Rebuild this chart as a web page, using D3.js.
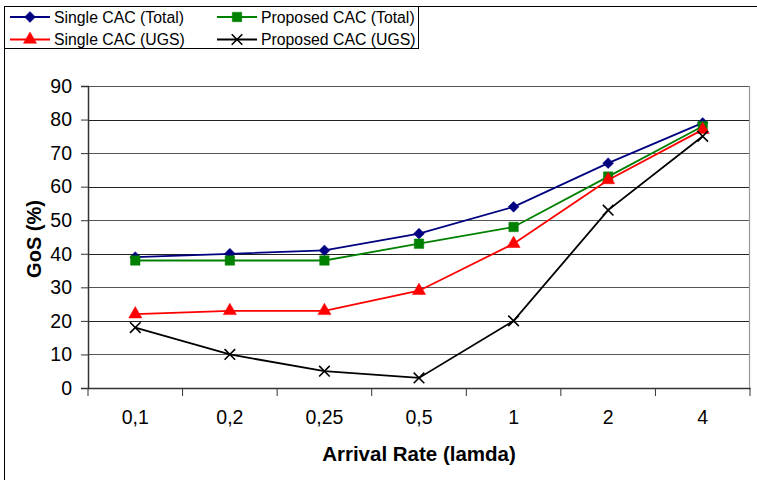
<!DOCTYPE html>
<html>
<head>
<meta charset="utf-8">
<script src="https://cdn.jsdelivr.net/npm/d3@7"></script>
<style>
  body { margin: 0; background: #fff; }
  text { font-family: "Liberation Sans", Arial, sans-serif; }
</style>
</head>
<body>
<svg class="chart"></svg>
<script>
const categories = ['0,1', '0,2', '0,25', '0,5', '1', '2', '4'];
const singleTotal = [39, 40, 41, 46, 54, 67, 79];
const proposedTotal = [38, 38, 38, 43, 48, 63, 78];
const singleUgs = [22, 23, 23, 29, 43, 62, 77];
const proposedUgs = [18, 10, 5, 3, 20, 53, 75];
const yTicks = [0, 10, 20, 30, 40, 50, 60, 70, 80, 90];

const series = [
  {name: 'Single CAC (Total)', values: singleTotal, color: '#000080', symbol: d3.symbolDiamond2, size: 75},
  {name: 'Proposed CAC (Total)', values: proposedTotal, color: '#008000', symbol: d3.symbolSquare, size: 90},
  {name: 'Single CAC (UGS)', values: singleUgs, color: '#ff0000', symbol: d3.symbolTriangle, size: 75},
  {name: 'Proposed CAC (UGS)', values: proposedUgs, color: '#000000', symbol: d3.symbolTimes, size: 75}
];

const width = 757, height = 480;
const svg = d3.select('.chart').attr('width', width).attr('height', height);

const plotLeft = 88, plotRight = 750, plotTop = 86, plotBottom = 388;

const x = d3.scaleBand().domain(categories).range([plotLeft, plotRight]);
const y = d3.scaleLinear().domain([0, 90]).range([plotBottom, plotTop]);

// frame
svg.append('line').attr('x1', 4.5).attr('x2', width).attr('y1', 6.5).attr('y2', 6.5).attr('stroke', '#000');
svg.append('line').attr('x1', 4.5).attr('x2', 4.5).attr('y1', 6.5).attr('y2', height).attr('stroke', '#000');

// gridlines
svg.append('g')
  .selectAll('line')
  .data(yTicks.slice(1))
  .join('line')
  .attr('x1', plotLeft).attr('x2', plotRight)
  .attr('y1', d => Math.round(y(d)) + 0.5).attr('y2', d => Math.round(y(d)) + 0.5)
  .attr('stroke', d => d % 20 === 0 ? '#222' : '#555')
  .attr('stroke-width', 1.2);

// plot area right border
svg.append('line').attr('x1', plotRight - 0.5).attr('x2', plotRight - 0.5).attr('y1', plotTop).attr('y2', plotBottom)
  .attr('stroke', '#999').attr('stroke-width', 1.2);

// y axis
const yAxis = svg.append('g')
  .attr('transform', `translate(${plotLeft},0)`)
  .call(d3.axisLeft(y).tickValues(yTicks).tickSize(7).tickPadding(9));
yAxis.select('.domain').attr('stroke', '#333').attr('stroke-width', 1.5);
yAxis.selectAll('.tick line').attr('stroke', '#333');
yAxis.selectAll('text').attr('font-size', 19.5).attr('fill', '#000')
  .attr('font-family', '"Liberation Sans", Arial, sans-serif');

// x axis
const xAxis = svg.append('g')
  .attr('transform', `translate(0,${plotBottom})`)
  .call(d3.axisBottom(x).tickSize(0).tickPadding(22));
xAxis.select('.domain').attr('stroke', '#333').attr('stroke-width', 1.5);
xAxis.selectAll('text').attr('font-size', 19.5).attr('fill', '#000')
  .attr('font-family', '"Liberation Sans", Arial, sans-serif');
xAxis.selectAll('.bound')
  .data(d3.range(categories.length + 1))
  .join('line')
  .attr('class', 'bound')
  .attr('x1', i => plotLeft + i * x.step()).attr('x2', i => plotLeft + i * x.step())
  .attr('y1', 0).attr('y2', 8)
  .attr('stroke', '#333');

// axis titles
svg.append('text')
  .attr('transform', `translate(41,${(plotTop + plotBottom) / 2 + 2}) rotate(-90)`)
  .attr('text-anchor', 'middle')
  .attr('font-size', 20).attr('font-weight', 'bold')
  .text('GoS (%)');
svg.append('text')
  .attr('x', 419).attr('y', 461)
  .attr('text-anchor', 'middle')
  .attr('font-size', 20.5).attr('font-weight', 'bold')
  .text('Arrival Rate (lamda)');

// lines and markers
const line = d3.line()
  .x((d, i) => x(categories[i]) + x.bandwidth() / 2)
  .y(d => y(d));

series.forEach(s => {
  svg.append('path')
    .datum(s.values)
    .attr('d', line)
    .attr('fill', 'none')
    .attr('stroke', s.color)
    .attr('stroke-width', 1.8);
  svg.append('g')
    .selectAll('path')
    .data(s.values)
    .join('path')
    .attr('transform', (d, i) => `translate(${x(categories[i]) + x.bandwidth() / 2},${y(d)})`)
    .attr('d', d3.symbol(s.symbol, s.size))
    .attr('fill', s.symbol === d3.symbolTimes ? 'none' : s.color)
    .attr('stroke', s.color)
    .attr('stroke-width', s.symbol === d3.symbolTimes ? 1.6 : 0.5);
});

// legend
const legend = svg.append('g');
legend.append('rect')
  .attr('x', 4.5).attr('y', 6.5).attr('width', 414).attr('height', 42)
  .attr('fill', '#fff').attr('stroke', '#000');
const legItems = legend.selectAll('g')
  .data(series)
  .join('g')
  .attr('transform', (d, i) => `translate(${i % 2 === 0 ? 10 : 217},${i < 2 ? 17 : 39.5})`);
legItems.append('line')
  .attr('x1', 0).attr('x2', 40).attr('y1', 0).attr('y2', 0)
  .attr('stroke', d => d.color).attr('stroke-width', 1.8);
legItems.append('path')
  .attr('transform', 'translate(20,0)')
  .attr('d', d => d3.symbol(d.symbol, d.size)())
  .attr('fill', d => d.symbol === d3.symbolTimes ? 'none' : d.color)
  .attr('stroke', d => d.color)
  .attr('stroke-width', d => d.symbol === d3.symbolTimes ? 1.6 : 0.5);
legItems.append('text')
  .attr('x', 44).attr('y', 5.5)
  .attr('font-size', 15.8)
  .text(d => d.name);
</script>
</body>
</html>
